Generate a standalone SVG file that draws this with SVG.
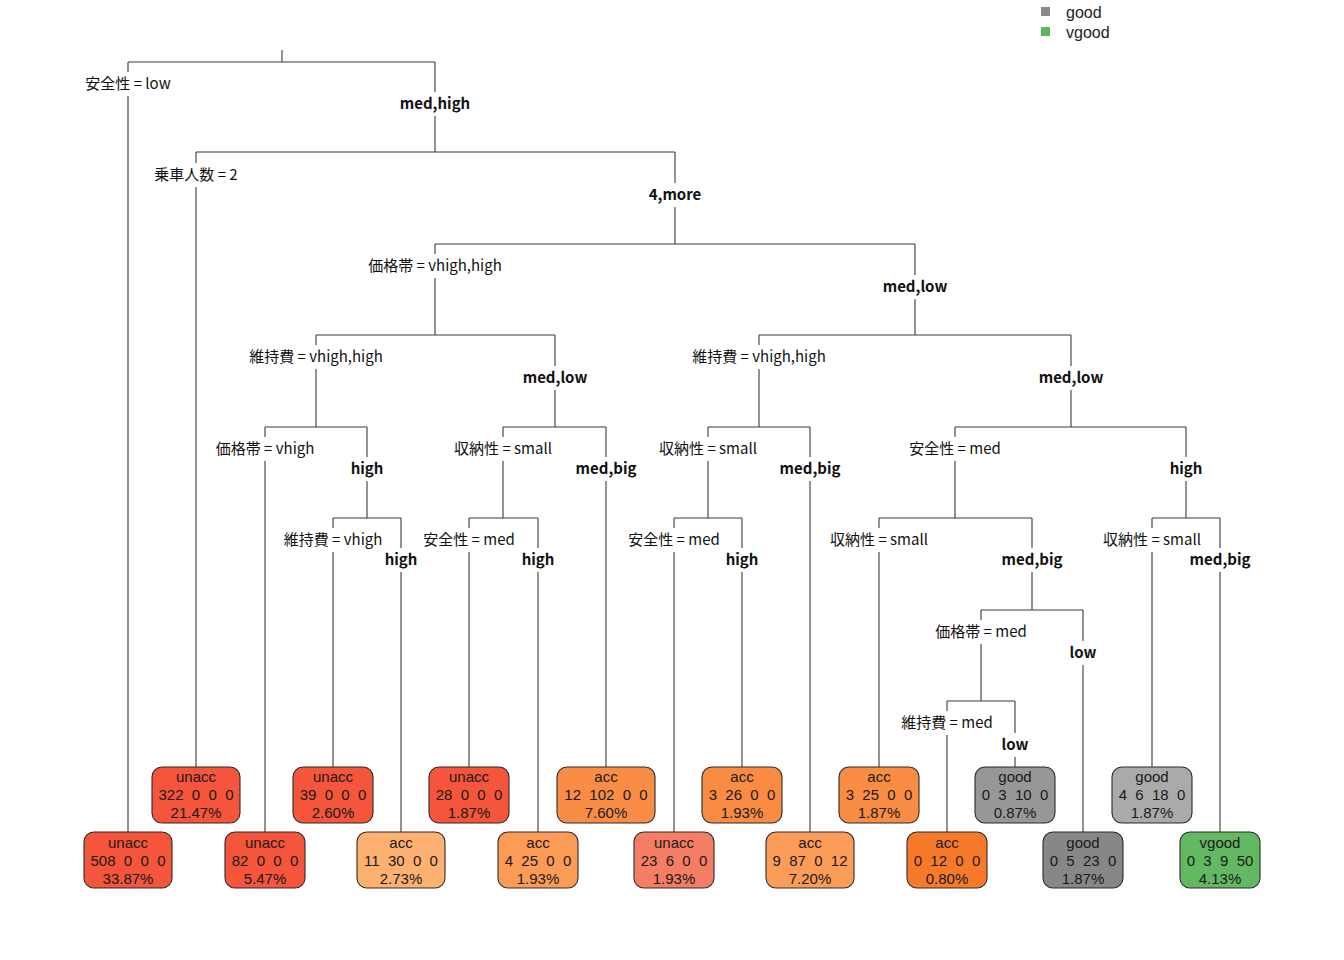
<svg xmlns="http://www.w3.org/2000/svg" width="1344" height="960" viewBox="0 0 1344 960">
<style>
.bg{fill:#ffffff}
.cn path{fill:none;stroke:#3a3a3a;stroke-width:1.1}
.lb{font-family:"Noto Sans CJK JP","Noto Sans",sans-serif;font-size:15px;fill:#111;text-anchor:middle}
.bd{font-weight:bold}
.gap{fill:#ffffff}
.leaf rect{stroke:#2b2b2b;stroke-width:1.1}
.lt{font-family:"Liberation Sans",Arial,sans-serif;font-size:15px;fill:#1a1a1a;text-anchor:middle;white-space:pre}
.leg{font-family:"Liberation Sans",Arial,sans-serif;font-size:16px;fill:#222}
</style>
<rect class="bg" x="0" y="0" width="1344" height="960"/>

<g id="legend">
<rect x="1041" y="7" width="9" height="9" fill="#888888"/>
<text class="leg" x="1066" y="18">good</text>
<rect x="1041" y="27" width="9" height="9" fill="#5DB85B"/>
<text class="leg" x="1066" y="38">vgood</text>
</g>

<g id="connectors" class="cn">
<path d="M282 50V62M128 62H435M128 62V832M435 62V152"/>
<path d="M196 152H675M196 152V767M675 152V244"/>
<path d="M435 244H915M435 244V335M915 244V335"/>
<path d="M316 335H555M316 335V427M555 335V427"/>
<path d="M265 427H367M265 427V832M367 427V518"/>
<path d="M333 518H401M333 518V767M401 518V832"/>
<path d="M503 427H606M503 427V518M606 427V767"/>
<path d="M469 518H538M469 518V767M538 518V832"/>
<path d="M759 335H1071M759 335V427M1071 335V427"/>
<path d="M708 427H810M708 427V518M810 427V832"/>
<path d="M674 518H742M674 518V832M742 518V767"/>
<path d="M955 427H1186M955 427V518M1186 427V518"/>
<path d="M879 518H1032M879 518V767M1032 518V610"/>
<path d="M981 610H1083M981 610V701M1083 610V832"/>
<path d="M947 701H1015M947 701V832M1015 701V767"/>
<path d="M1152 518H1220M1152 518V767M1220 518V832"/>
</g>

<g id="split-labels">
<g id="n1"><rect class="gap" x="121" y="72" width="14" height="24"/><text class="lb" x="128" y="89">安全性 = low</text></g>
<g id="n1r"><rect class="gap" x="428" y="92" width="14" height="24"/><text class="lb bd" x="435" y="109">med,high</text></g>
<g id="n2"><rect class="gap" x="189" y="163" width="14" height="24"/><text class="lb" x="196" y="180">乗車人数 = 2</text></g>
<g id="n2r"><rect class="gap" x="668" y="183" width="14" height="24"/><text class="lb bd" x="675" y="200">4,more</text></g>
<g id="n3"><rect class="gap" x="428" y="254" width="14" height="24"/><text class="lb" x="435" y="271">価格帯 = vhigh,high</text></g>
<g id="n3r"><rect class="gap" x="908" y="275" width="14" height="24"/><text class="lb bd" x="915" y="292">med,low</text></g>
<g id="n4"><rect class="gap" x="309" y="345" width="14" height="24"/><text class="lb" x="316" y="362">維持費 = vhigh,high</text></g>
<g id="n4r"><rect class="gap" x="548" y="366" width="14" height="24"/><text class="lb bd" x="555" y="383">med,low</text></g>
<g id="n5"><rect class="gap" x="258" y="437" width="14" height="24"/><text class="lb" x="265" y="454">価格帯 = vhigh</text></g>
<g id="n5r"><rect class="gap" x="360" y="457" width="14" height="24"/><text class="lb bd" x="367" y="474">high</text></g>
<g id="n6"><rect class="gap" x="326" y="528" width="14" height="24"/><text class="lb" x="333" y="545">維持費 = vhigh</text></g>
<g id="n6r"><rect class="gap" x="394" y="548" width="14" height="24"/><text class="lb bd" x="401" y="565">high</text></g>
<g id="n7"><rect class="gap" x="496" y="437" width="14" height="24"/><text class="lb" x="503" y="454">収納性 = small</text></g>
<g id="n7r"><rect class="gap" x="599" y="457" width="14" height="24"/><text class="lb bd" x="606" y="474">med,big</text></g>
<g id="n8"><rect class="gap" x="462" y="528" width="14" height="24"/><text class="lb" x="469" y="545">安全性 = med</text></g>
<g id="n8r"><rect class="gap" x="531" y="548" width="14" height="24"/><text class="lb bd" x="538" y="565">high</text></g>
<g id="n9"><rect class="gap" x="752" y="345" width="14" height="24"/><text class="lb" x="759" y="362">維持費 = vhigh,high</text></g>
<g id="n9r"><rect class="gap" x="1064" y="366" width="14" height="24"/><text class="lb bd" x="1071" y="383">med,low</text></g>
<g id="n10"><rect class="gap" x="701" y="437" width="14" height="24"/><text class="lb" x="708" y="454">収納性 = small</text></g>
<g id="n10r"><rect class="gap" x="803" y="457" width="14" height="24"/><text class="lb bd" x="810" y="474">med,big</text></g>
<g id="n11"><rect class="gap" x="667" y="528" width="14" height="24"/><text class="lb" x="674" y="545">安全性 = med</text></g>
<g id="n11r"><rect class="gap" x="735" y="548" width="14" height="24"/><text class="lb bd" x="742" y="565">high</text></g>
<g id="n12"><rect class="gap" x="948" y="437" width="14" height="24"/><text class="lb" x="955" y="454">安全性 = med</text></g>
<g id="n12r"><rect class="gap" x="1179" y="457" width="14" height="24"/><text class="lb bd" x="1186" y="474">high</text></g>
<g id="n13"><rect class="gap" x="872" y="528" width="14" height="24"/><text class="lb" x="879" y="545">収納性 = small</text></g>
<g id="n13r"><rect class="gap" x="1025" y="548" width="14" height="24"/><text class="lb bd" x="1032" y="565">med,big</text></g>
<g id="n14"><rect class="gap" x="974" y="620" width="14" height="24"/><text class="lb" x="981" y="637">価格帯 = med</text></g>
<g id="n14r"><rect class="gap" x="1076" y="641" width="14" height="24"/><text class="lb bd" x="1083" y="658">low</text></g>
<g id="n15"><rect class="gap" x="940" y="711" width="14" height="24"/><text class="lb" x="947" y="728">維持費 = med</text></g>
<g id="n15r"><rect class="gap" x="1008" y="733" width="14" height="24"/><text class="lb bd" x="1015" y="750">low</text></g>
<g id="n16"><rect class="gap" x="1145" y="528" width="14" height="24"/><text class="lb" x="1152" y="545">収納性 = small</text></g>
<g id="n16r"><rect class="gap" x="1213" y="548" width="14" height="24"/><text class="lb bd" x="1220" y="565">med,big</text></g>
</g>

<g id="leaves">
<g id="leaf1" class="leaf"><rect x="84" y="832" width="88" height="56" rx="10" fill="#F4553B"/><text class="lt" x="128" y="848">unacc</text><text class="lt" x="128" y="866" xml:space="preserve">508  0  0  0</text><text class="lt" x="128" y="884">33.87%</text></g>
<g id="leaf2" class="leaf"><rect x="152" y="767" width="88" height="56" rx="10" fill="#F4553B"/><text class="lt" x="196" y="782">unacc</text><text class="lt" x="196" y="800" xml:space="preserve">322  0  0  0</text><text class="lt" x="196" y="818">21.47%</text></g>
<g id="leaf3" class="leaf"><rect x="225" y="832" width="80" height="56" rx="10" fill="#F4553B"/><text class="lt" x="265" y="848">unacc</text><text class="lt" x="265" y="866" xml:space="preserve">82  0  0  0</text><text class="lt" x="265" y="884">5.47%</text></g>
<g id="leaf4" class="leaf"><rect x="293" y="767" width="80" height="56" rx="10" fill="#F4553B"/><text class="lt" x="333" y="782">unacc</text><text class="lt" x="333" y="800" xml:space="preserve">39  0  0  0</text><text class="lt" x="333" y="818">2.60%</text></g>
<g id="leaf5" class="leaf"><rect x="357" y="832" width="88" height="56" rx="10" fill="#FDB170"/><text class="lt" x="401" y="848">acc</text><text class="lt" x="401" y="866" xml:space="preserve">11  30  0  0</text><text class="lt" x="401" y="884">2.73%</text></g>
<g id="leaf6" class="leaf"><rect x="429" y="767" width="80" height="56" rx="10" fill="#F4553B"/><text class="lt" x="469" y="782">unacc</text><text class="lt" x="469" y="800" xml:space="preserve">28  0  0  0</text><text class="lt" x="469" y="818">1.87%</text></g>
<g id="leaf7" class="leaf"><rect x="498" y="832" width="80" height="56" rx="10" fill="#FC9B55"/><text class="lt" x="538" y="848">acc</text><text class="lt" x="538" y="866" xml:space="preserve">4  25  0  0</text><text class="lt" x="538" y="884">1.93%</text></g>
<g id="leaf8" class="leaf"><rect x="557" y="767" width="98" height="56" rx="10" fill="#FA8D45"/><text class="lt" x="606" y="782">acc</text><text class="lt" x="606" y="800" xml:space="preserve">12  102  0  0</text><text class="lt" x="606" y="818">7.60%</text></g>
<g id="leaf9" class="leaf"><rect x="634" y="832" width="80" height="56" rx="10" fill="#F47D63"/><text class="lt" x="674" y="848">unacc</text><text class="lt" x="674" y="866" xml:space="preserve">23  6  0  0</text><text class="lt" x="674" y="884">1.93%</text></g>
<g id="leaf10" class="leaf"><rect x="702" y="767" width="80" height="56" rx="10" fill="#F98C42"/><text class="lt" x="742" y="782">acc</text><text class="lt" x="742" y="800" xml:space="preserve">3  26  0  0</text><text class="lt" x="742" y="818">1.93%</text></g>
<g id="leaf11" class="leaf"><rect x="766" y="832" width="88" height="56" rx="10" fill="#FB9D58"/><text class="lt" x="810" y="848">acc</text><text class="lt" x="810" y="866" xml:space="preserve">9  87  0  12</text><text class="lt" x="810" y="884">7.20%</text></g>
<g id="leaf12" class="leaf"><rect x="839" y="767" width="80" height="56" rx="10" fill="#F98D43"/><text class="lt" x="879" y="782">acc</text><text class="lt" x="879" y="800" xml:space="preserve">3  25  0  0</text><text class="lt" x="879" y="818">1.87%</text></g>
<g id="leaf13" class="leaf"><rect x="907" y="832" width="80" height="56" rx="10" fill="#F77A2B"/><text class="lt" x="947" y="848">acc</text><text class="lt" x="947" y="866" xml:space="preserve">0  12  0  0</text><text class="lt" x="947" y="884">0.80%</text></g>
<g id="leaf14" class="leaf"><rect x="975" y="767" width="80" height="56" rx="10" fill="#979797"/><text class="lt" x="1015" y="782">good</text><text class="lt" x="1015" y="800" xml:space="preserve">0  3  10  0</text><text class="lt" x="1015" y="818">0.87%</text></g>
<g id="leaf15" class="leaf"><rect x="1043" y="832" width="80" height="56" rx="10" fill="#878787"/><text class="lt" x="1083" y="848">good</text><text class="lt" x="1083" y="866" xml:space="preserve">0  5  23  0</text><text class="lt" x="1083" y="884">1.87%</text></g>
<g id="leaf16" class="leaf"><rect x="1112" y="767" width="80" height="56" rx="10" fill="#AAAAAA"/><text class="lt" x="1152" y="782">good</text><text class="lt" x="1152" y="800" xml:space="preserve">4  6  18  0</text><text class="lt" x="1152" y="818">1.87%</text></g>
<g id="leaf17" class="leaf"><rect x="1180" y="832" width="80" height="56" rx="10" fill="#63B862"/><text class="lt" x="1220" y="848">vgood</text><text class="lt" x="1220" y="866" xml:space="preserve">0  3  9  50</text><text class="lt" x="1220" y="884">4.13%</text></g>
</g>
</svg>
